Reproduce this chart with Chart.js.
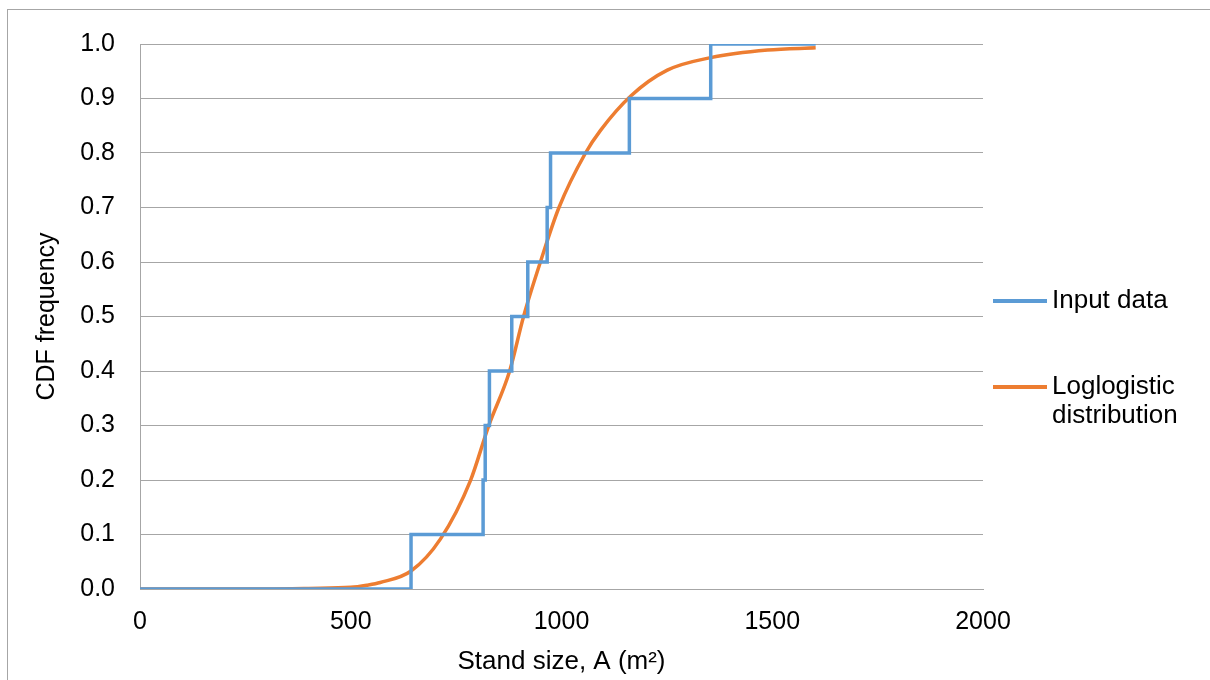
<!DOCTYPE html>
<html>
<head>
<meta charset="utf-8">
<script src="https://cdn.jsdelivr.net/npm/chart.js@4"></script>
<style>
  body { margin: 0; background: #fff; overflow: hidden; width: 1210px; height: 680px; position: relative; }
  #frame { position: absolute; left: 7px; top: 9px; width: 1300px; height: 800px; border: 1px solid #a6a6a6; }
  #myChart { position: absolute; left: 0; top: 0; }
  .key { position: absolute; left: 993px; width: 54px; height: 4px; }
  .keyText { position: absolute; left: 1052px; font-family: "Liberation Sans", Arial, sans-serif; font-size: 26px; line-height: 29px; color: #000; }
</style>
</head>
<body>
<div id="frame"></div>
<canvas id="myChart" width="1210" height="680"></canvas>
<div class="key" style="top:299px; background:#5b9bd5;"></div>
<div class="keyText" style="top:285px;">Input data</div>
<div class="key" style="top:385px; background:#ed7d31;"></div>
<div class="keyText" style="top:371px;">Loglogistic<br>distribution</div>

<script>
// step CDF of the input data (x = stand size, y = cumulative frequency)
const stepX = [0, 643, 814, 819, 829, 882, 920, 966, 974, 1161, 1354, 1603];
const stepY = [0, 0.1, 0.2, 0.3, 0.4, 0.5, 0.6, 0.7, 0.8, 0.9, 1.0, 1.0];

// fitted loglogistic curve
const fitX = [0, 300, 400, 500, 538, 570, 643, 713, 784, 827, 877, 910, 950, 994, 1057, 1093, 1165, 1251, 1354, 1489, 1603];
const fitY = [0, 0, 0.001, 0.003, 0.007, 0.012, 0.033, 0.092, 0.199, 0.299, 0.400, 0.500, 0.600, 0.700, 0.800, 0.842, 0.905, 0.952, 0.975, 0.989, 0.993];

const xTicks = [0, 500, 1000, 1500, 2000];
const seriesNames = ["Input data", "Loglogistic distribution"];

const font = "'Liberation Sans', Arial, sans-serif";
const gridColor = "#a6a6a6";

function points(xs, ys) {
    return xs.map((x, i) => ({ x: x, y: ys[i] }));
}

const ctx = document.getElementById("myChart").getContext("2d");
const myChart = new Chart(ctx, {
    type: "line",
    data: {
        datasets: [{
            label: seriesNames[0],
            data: points(stepX, stepY),
            borderColor: "#5b9bd5",
            borderWidth: 3.5,
            stepped: "before",
            borderJoinStyle: "miter",
            pointRadius: 0,
            fill: false,
        }, {
            label: seriesNames[1],
            data: points(fitX, fitY),
            borderColor: "#ed7d31",
            borderWidth: 3.5,
            cubicInterpolationMode: "monotone",
            pointRadius: 0,
            fill: false,
        }],
    },
    options: {
        responsive: false,
        animation: false,
        devicePixelRatio: 1,
        layout: { padding: { left: 0, top: 44, right: 227, bottom: 0 } },
        plugins: {
            legend: { display: false },
            tooltip: { enabled: false },
        },
        scales: {
            x: {
                type: "linear",
                min: 0,
                max: 2000,
                afterBuildTicks: (axis) => { axis.ticks = xTicks.map(v => ({ value: v })); },
                afterFit: (axis) => { axis.height = 91; },
                grid: { display: false, drawTicks: false },
                border: { display: true, color: gridColor, width: 1 },
                ticks: {
                    color: "#000",
                    padding: 18,
                    maxRotation: 0,
                    font: { family: font, size: 25 },
                    callback: (v) => String(v),
                },
                title: {
                    display: true,
                    text: "Stand size, A (m²)",
                    color: "#000",
                    padding: { top: 3, bottom: 3 },
                    font: { family: font, size: 26 },
                },
            },
            y: {
                min: 0,
                max: 1,
                afterFit: (axis) => { axis.width = 140; },
                grid: { color: gridColor, lineWidth: 1, drawTicks: false },
                border: { display: true, color: gridColor, width: 1 },
                ticks: {
                    stepSize: 0.1,
                    color: "#000",
                    padding: 25,
                    font: { family: font, size: 25 },
                    callback: (v) => v.toFixed(1),
                },
                title: {
                    display: true,
                    text: "CDF frequency",
                    color: "#000",
                    padding: { top: 32, bottom: 0 },
                    font: { family: font, size: 25 },
                },
            },
        },
    },
});
</script>
</body>
</html>
